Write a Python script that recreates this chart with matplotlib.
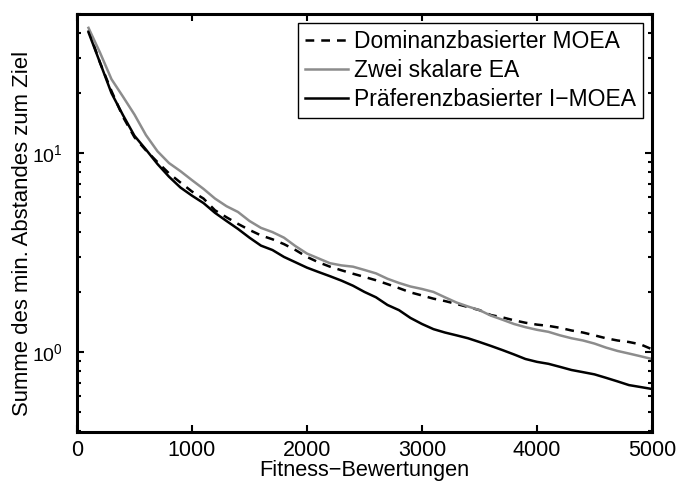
import matplotlib
matplotlib.use("Agg")
import matplotlib.pyplot as plt
from matplotlib.ticker import LogLocator, NullFormatter

plt.rcParams["font.family"] = ["Liberation Sans", "DejaVu Sans"]
plt.rcParams["mathtext.fontset"] = "custom"
plt.rcParams["mathtext.rm"] = "Liberation Sans"
plt.rcParams["mathtext.it"] = "Liberation Sans"

# Fitness evaluations
evaluations = list(range(100, 5001, 100))

dominanz_moea = [
    41.5, 28.5, 20.5, 15.2, 12.0, 10.3, 9.0, 7.9, 7.1, 6.4,
    5.9, 5.15, 4.75, 4.4, 4.1, 3.85, 3.68, 3.48, 3.25, 3.0,
    2.82, 2.68, 2.57, 2.47, 2.38, 2.29, 2.19, 2.09, 1.99, 1.92,
    1.85, 1.80, 1.74, 1.68, 1.62, 1.53, 1.49, 1.44, 1.40, 1.37,
    1.35, 1.32, 1.28, 1.25, 1.21, 1.17, 1.14, 1.12, 1.09, 1.03,
]
zwei_skalare_ea = [
    42.6, 32.0, 23.5, 19.2, 15.6, 12.3, 10.2, 8.9, 8.1, 7.3,
    6.6, 5.9, 5.4, 5.05, 4.55, 4.2, 4.0, 3.75, 3.4, 3.12,
    2.95, 2.79, 2.72, 2.68, 2.58, 2.48, 2.33, 2.22, 2.13, 2.07,
    2.00, 1.88, 1.77, 1.69, 1.62, 1.52, 1.45, 1.38, 1.33, 1.29,
    1.26, 1.21, 1.17, 1.14, 1.10, 1.05, 1.01, 0.98, 0.95, 0.92,
]
praeferenz_imoea = [
    40.5, 28.5, 20.0, 15.5, 12.2, 10.4, 8.8, 7.6, 6.7, 6.1,
    5.6, 5.0, 4.55, 4.15, 3.75, 3.42, 3.25, 3.0, 2.82, 2.65,
    2.52, 2.40, 2.28, 2.15, 2.0, 1.88, 1.72, 1.62, 1.48, 1.38,
    1.30, 1.25, 1.21, 1.17, 1.12, 1.07, 1.02, 0.97, 0.92, 0.89,
    0.87, 0.84, 0.81, 0.79, 0.77, 0.74, 0.71, 0.68, 0.665, 0.65,
]

series_labels = ["Dominanzbasierter MOEA", "Zwei skalare EA", "Präferenzbasierter I\u2212MOEA"]

fig = plt.figure(figsize=(6.77, 4.83), dpi=100)
ax = fig.add_axes([0.1137, 0.1056, 0.8493, 0.8654])

ax.semilogy(evaluations, dominanz_moea, color="black", lw=1.8,
            linestyle=(0, (3.5, 2.8)), label=series_labels[0])
ax.semilogy(evaluations, zwei_skalare_ea, color="0.55", lw=1.8,
            label=series_labels[1])
ax.semilogy(evaluations, praeferenz_imoea, color="black", lw=1.8,
            label=series_labels[2])

ax.set_xlim(0, 5000)
ax.set_ylim(0.395, 50)
ax.set_xticks([0, 1000, 2000, 3000, 4000, 5000])
ax.yaxis.set_major_locator(LogLocator(base=10, numticks=5))
ax.yaxis.set_minor_locator(LogLocator(base=10, subs=range(2, 10), numticks=20))
ax.yaxis.set_minor_formatter(NullFormatter())

ax.tick_params(which="both", direction="in", top=True, right=True, width=1.5)
ax.tick_params(axis="x", labelsize=15.5, pad=6)
ax.tick_params(axis="y", labelsize=14, pad=10)
ax.tick_params(which="major", length=5)
ax.tick_params(which="minor", length=3)
for side in ax.spines.values():
    side.set_linewidth(2.2)

ax.set_xlabel("Fitness\u2212Bewertungen", fontsize=15.7, labelpad=-1)
ax.set_ylabel("Summe des min. Abstandes zum Ziel", fontsize=15.9)
ax.yaxis.set_label_coords(-0.076, 0.475)

leg = ax.legend(loc="upper right", fontsize=16.5, fancybox=False,
                edgecolor="black", framealpha=1, borderaxespad=0.4,
                handlelength=1.9, handletextpad=0.25, borderpad=0.3,
                labelspacing=0.27)
leg.get_frame().set_linewidth(1.0)

fig.savefig("out.png", dpi=100)
